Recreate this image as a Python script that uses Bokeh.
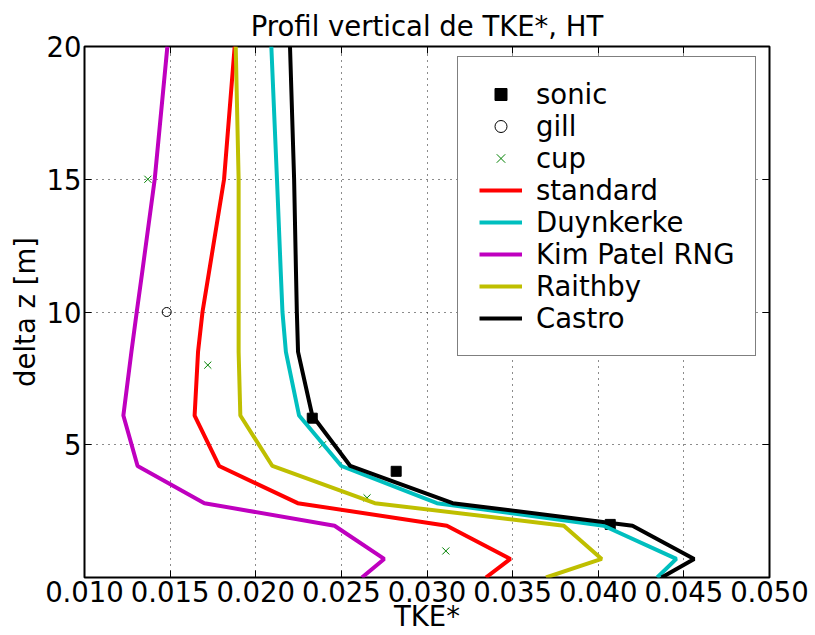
from bokeh.plotting import figure
from bokeh.models import (Legend, LegendItem, FixedTicker, NumeralTickFormatter,
                          LinearAxis, Range1d, CustomJSTickFormatter)
from bokeh.embed import file_html
from bokeh.resources import INLINE

# ---------------- data ----------------
z_levels = [0.0, 0.7, 1.95, 2.8, 4.2, 6.1, 8.5, 10.0, 11.5, 15.0, 20.0]
standard = [0.03344, 0.03487, 0.03116, 0.02245, 0.01786, 0.01643, 0.01663, 0.01689, 0.01727, 0.01815, 0.01877]
duynkerke = [0.04344, 0.04456, 0.04032, 0.03058, 0.02500, 0.02253, 0.02176, 0.02156, 0.02146, 0.02124, 0.02091]
kim_patel = [0.0262, 0.0275, 0.0246, 0.0170, 0.0131, 0.01227, 0.01274, 0.01305, 0.01337, 0.0141, 0.01484]
raithby = [0.03695, 0.0402, 0.03799, 0.02695, 0.02097, 0.0191, 0.0190, 0.0190, 0.0190, 0.0190, 0.01883]
castro = [0.0437, 0.0456, 0.0420, 0.0315, 0.02552, 0.0233, 0.02247, 0.0224, 0.02235, 0.02224, 0.0220]

sonic_tke = [0.0233, 0.0282, 0.0407]
sonic_z = [6.0, 4.0, 2.0]
gill_tke = [0.0148]
gill_z = [10.0]
cup_tke = [0.0137, 0.0172, 0.0239, 0.0265, 0.0311]
cup_z = [15.0, 8.0, 5.0, 3.0, 1.0]

x_ticks = [0.010, 0.015, 0.020, 0.025, 0.030, 0.035, 0.040, 0.045, 0.050]
y_ticks = [5, 10, 15, 20]

FONT = "DejaVu Sans"
FS = "27.5px"

p = figure(width=815, height=635, x_range=Range1d(0.010, 0.050), y_range=Range1d(0, 20),
           output_backend="svg", toolbar_location=None,
           min_border_left=84, min_border_right=46, min_border_top=46, min_border_bottom=58)

p.title.text = "Profil vertical de TKE*, HT"
p.title.align = "center"
p.title.text_font = FONT
p.title.text_font_size = FS
p.title.text_font_style = "normal"
p.title.text_color = "black"
p.title.standoff = 9

p.outline_line_color = "black"
p.outline_line_width = 2
p.background_fill_color = "white"
p.border_fill_color = "white"

for ax in (p.xaxis[0], p.yaxis[0]):
    ax.major_label_text_font = FONT
    ax.major_label_text_font_size = FS
    ax.major_label_text_color = "black"
    ax.major_tick_in = 7
    ax.major_tick_out = 0
    ax.minor_tick_line_color = None
    ax.axis_line_color = None
    ax.major_tick_line_color = "black"
    ax.major_tick_line_width = 1
    ax.axis_label_text_font = FONT
    ax.axis_label_text_font_size = FS
    ax.axis_label_text_font_style = "normal"
    ax.axis_label_text_color = "black"

p.xaxis.ticker = FixedTicker(ticks=x_ticks)
p.xaxis.formatter = NumeralTickFormatter(format="0.000")
p.xaxis.major_label_standoff = 3
p.xaxis.axis_label = "TKE*"
p.xaxis.axis_label_standoff = -5
p.yaxis.ticker = FixedTicker(ticks=y_ticks)
p.yaxis.major_label_standoff = 3
p.yaxis.axis_label = "delta z [m]"
p.yaxis.axis_label_standoff = 3

# mirrored ticks on top and right
blank = CustomJSTickFormatter(code="return ''")
top = LinearAxis(ticker=FixedTicker(ticks=x_ticks), formatter=blank, axis_line_color=None,
                 major_tick_in=7, major_tick_out=0, minor_tick_line_color=None,
                 major_label_standoff=0)
right = LinearAxis(ticker=FixedTicker(ticks=y_ticks), formatter=blank, axis_line_color=None,
                   major_tick_in=7, major_tick_out=0, minor_tick_line_color=None,
                   major_label_standoff=0)
p.add_layout(top, "above")
p.add_layout(right, "right")

for g, t in ((p.xgrid, x_ticks), (p.ygrid, y_ticks)):
    g.ticker = FixedTicker(ticks=t)
    g.grid_line_color = "black"
    g.grid_line_dash = "1 5"
    g.grid_line_width = 1
    g.grid_line_alpha = 0.9

# markers first (beneath lines)
r_sonic = p.scatter(sonic_tke, sonic_z, marker="square", size=10, color="black")
r_gill = p.scatter(gill_tke, gill_z, marker="circle", size=9, fill_color=None,
                   line_color="black", line_width=1)
r_cup = p.scatter(cup_tke, cup_z, marker="x", size=10, line_color="#008000", line_width=1)

LW = 4
r_std = p.line(standard, z_levels, line_color="#FF0000", line_width=LW)
r_duy = p.line(duynkerke, z_levels, line_color="#00BFBF", line_width=LW)
r_kim = p.line(kim_patel, z_levels, line_color="#BF00BF", line_width=LW)
r_rai = p.line(raithby, z_levels, line_color="#BFBF00", line_width=LW)
r_cas = p.line(castro, z_levels, line_color="black", line_width=LW)

legend = Legend(items=[
    LegendItem(label="sonic", renderers=[r_sonic]),
    LegendItem(label="gill", renderers=[r_gill]),
    LegendItem(label="cup", renderers=[r_cup]),
    LegendItem(label="standard", renderers=[r_std]),
    LegendItem(label="Duynkerke", renderers=[r_duy]),
    LegendItem(label="Kim Patel RNG", renderers=[r_kim]),
    LegendItem(label="Raithby", renderers=[r_rai]),
    LegendItem(label="Castro", renderers=[r_cas]),
], location=(373, 221))
legend.label_text_font = FONT
legend.label_text_font_size = FS
legend.label_text_color = "black"
legend.glyph_width = 43
legend.glyph_height = 30
legend.label_height = 30
legend.label_standoff = 14
legend.spacing = 0
legend.padding = 21
legend.margin = 0
legend.border_line_color = "black"
legend.border_line_width = 1.5
legend.background_fill_alpha = 1.0
p.add_layout(legend, "center")

open("out.html", "w").write(file_html(p, INLINE))
